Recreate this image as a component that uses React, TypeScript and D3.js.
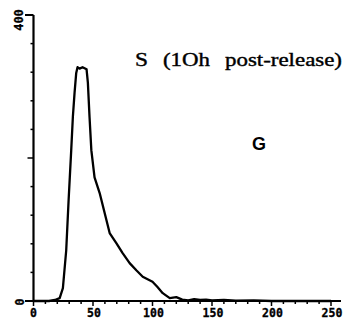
import React from "react";
import * as d3 from "d3";

const channel = [0, 13, 18, 22, 24.7, 27.5, 29.5, 31.7, 33.1, 34.5, 35.9, 37, 38.7, 41.2, 44.6, 45.7, 47.1, 48.6, 51.3, 55.6, 59.8, 64, 69.6, 74.9, 80.8, 86.4, 91.8, 100, 104, 108.6, 114.5, 120, 125, 130, 135, 140, 145, 150, 160, 170, 185, 200, 250];
const counts = [0, 0, 1.4, 4, 18, 71, 141, 211, 258, 291, 319, 327, 325, 327, 324, 305, 257, 211, 173, 151, 123, 95, 81, 67, 53, 43, 34, 27, 20, 11, 4, 5.5, 2, 1, 2.5, 1.5, 2, 1, 1.5, 0.5, 1, 0, 0];
const xMajorTicks = [0, 50, 100, 150, 200, 250];
const xMinorTicks = d3.range(0, 251, 10);
const yMinorTicks = d3.range(0, 401, 40);
const yLabels = ["0", "400"];
const title = ["S", "(1Oh", "post-release)"];
const phaseLabel = "G";

export default function App() {
  const W = 354, H = 325;
  const x = d3.scaleLinear().domain([0, 250]).range([33.5, 331]);
  const y = d3.scaleLinear().domain([0, 400]).range([301, 15]);
  const line = d3.line<number>().x((_, i) => x(channel[i])).y((d) => y(d)).curve(d3.curveLinear);
  const path = line(counts) || "";
  const mono = "'DejaVu Sans Mono', monospace";
  const serif = "'Liberation Serif', serif";
  return (
    <svg width={W} height={H} style={{ position: "absolute", left: 0, top: 0, background: "#fff" }}>
      {/* y axis */}
      <line x1={x(0)} x2={x(0)} y1={y(400)} y2={y(0)} stroke="#000" strokeWidth={2.2} />
      <line x1={25} x2={x(0)} y1={y(400)} y2={y(400)} stroke="#000" strokeWidth={2} />
      {yMinorTicks.filter((t) => t > 0 && t < 400).map((t) => (
        <line key={"yt" + t} x1={x(0) - (t === 200 ? 6 : 3)} x2={x(0)} y1={y(t)} y2={y(t)} stroke="#000" strokeWidth={1.5} />
      ))}
      {/* x axis */}
      <line x1={25} x2={341} y1={y(0)} y2={y(0)} stroke="#000" strokeWidth={2.2} />
      {xMinorTicks.map((t) => (
        <line key={"xt" + t} x1={x(t)} x2={x(t)} y1={y(0)} y2={y(0) + (t % 50 === 0 ? 5 : 3)} stroke="#000" strokeWidth={1.5} />
      ))}
      {xMajorTicks.map((t) => (
        <text key={"xl" + t} x={x(t) + (t === 0 ? 0 : 1)} y={317} textAnchor="middle" fontFamily={mono} fontWeight="bold" fontSize={11.5} fill="#000" stroke="#000" strokeWidth={0.3}>
          {String(t)}
        </text>
      ))}
      <text transform={`translate(23,${y(400) + 5}) rotate(-90)`} textAnchor="middle" fontFamily={mono} fontWeight="bold" fontSize={12} fill="#000" stroke="#000" strokeWidth={0.3}>
        {yLabels[1]}
      </text>
      <text transform={`translate(24,${y(0) + 1}) rotate(-90)`} textAnchor="middle" fontFamily={mono} fontWeight="bold" fontSize={11.5} fill="#000" stroke="#000" strokeWidth={0.3}>
        {yLabels[0]}
      </text>
      {/* histogram curve */}
      <path d={path} fill="none" stroke="#000" strokeWidth={2.3} strokeLinejoin="round" />
      {/* annotations */}
      <g fill="#000" stroke="#000" strokeWidth={0.4} fontFamily={serif} fontSize={19}>
        <text x={135} y={66} textLength={13} lengthAdjust="spacingAndGlyphs">{title[0]}</text>
        <text x={163} y={66} textLength={47} lengthAdjust="spacingAndGlyphs">{title[1]}</text>
        <text x={225} y={66} textLength={117} lengthAdjust="spacingAndGlyphs">{title[2]}</text>
      </g>
      <text x={259} y={150} textAnchor="middle" fontFamily="'Liberation Sans', Arial, sans-serif" fontWeight="bold" fontSize={18} fill="#000">{phaseLabel}</text>
    </svg>
  );
}
